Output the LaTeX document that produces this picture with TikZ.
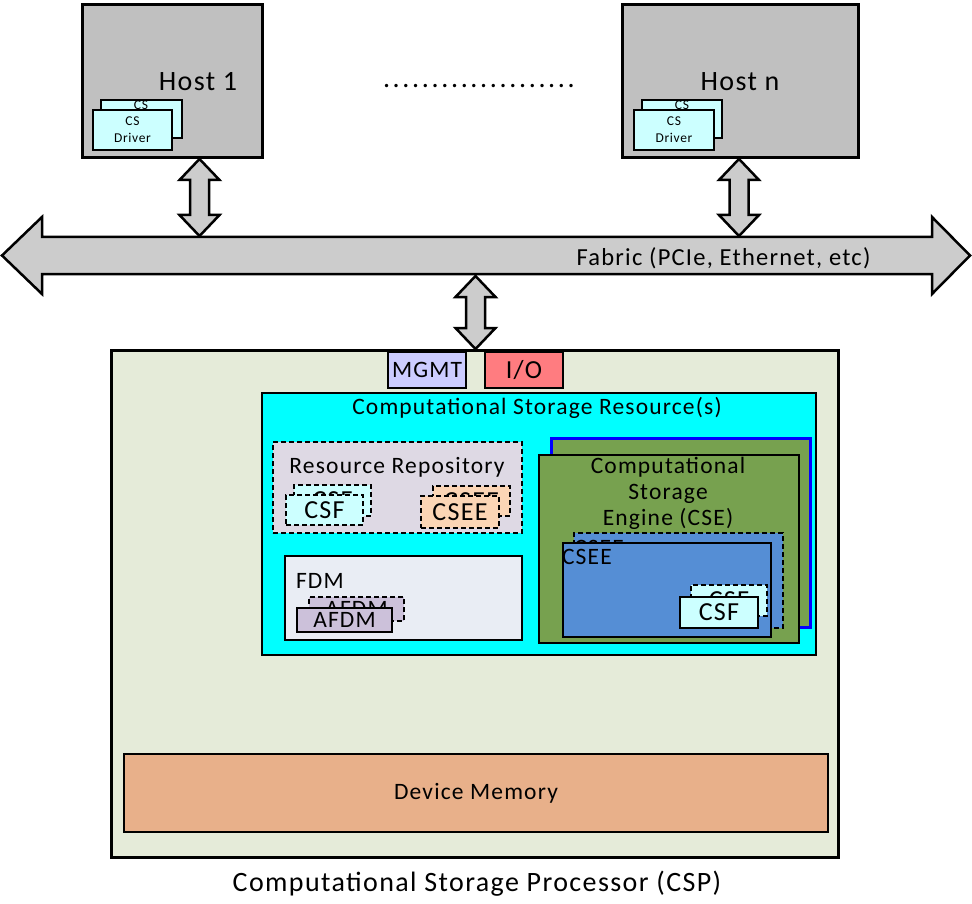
\documentclass[tikz,border=0pt]{standalone}
\usepackage{fontspec}
\setmainfont{Carlito}[LetterSpace=5]
\usetikzlibrary{calc,fit}
\definecolor{hostgray}{HTML}{C0C0C0}
\definecolor{arrgray}{HTML}{CCCCCC}
\definecolor{drvcyan}{HTML}{CCFFFF}
\definecolor{cspfill}{HTML}{E5EBD9}
\definecolor{mgmtfill}{HTML}{CCCCFF}
\definecolor{iofill}{HTML}{FF7C80}
\definecolor{csrfill}{HTML}{00FFFF}
\definecolor{rrfill}{HTML}{DED9E4}
\definecolor{cseefill}{HTML}{FBD5B5}
\definecolor{fdmfill}{HTML}{E9EDF4}
\definecolor{afdmfill}{HTML}{CCC1DA}
\definecolor{csegreen}{HTML}{77A14F}
\definecolor{cseeblue}{HTML}{558ED5}
\definecolor{memfill}{HTML}{E8B08A}
\newcommand\fmain{\fontsize{23.5}{26}\selectfont}
\newcommand\fbig{\fontsize{28}{32}\selectfont}
\newcommand\fcard{\fontsize{26}{30}\selectfont}
\newcommand\fsmall{\fontsize{13.5}{17}\selectfont}
\newcommand\rbox[4][]{\node[fit={(#3) (#4)}, inner sep=0pt, outer sep=0pt, draw=black, line width=2.5pt, #1] (#2) {};}
\newcommand\vdbl[2]{\draw[blockarrow] (#1) -- ($(#1)+(20,21)$) -- ($(#1)+(9.5,21)$) -- ($(#2)+(9.5,-21)$) -- ($(#2)+(20,-21)$) -- (#2) -- ($(#2)+(-20,-21)$) -- ($(#2)+(-9.5,-21)$) -- ($(#1)+(-9.5,21)$) -- ($(#1)+(-20,21)$) -- cycle;}
\tikzset{
  blockarrow/.style={draw=black, line width=2.5pt, fill=arrgray, line join=miter},
  dsh/.style={dash pattern=on 5pt off 3pt},
  txt/.style={inner sep=0pt, outer sep=0pt, font=\fmain},
}
\begin{document}
\begin{tikzpicture}[x=1pt,y=-1pt]
\useasboundingbox (0,0) rectangle (972,904);
% hosts
\rbox[fill=hostgray, line width=3pt]{h1}{82,5}{262,158}
\rbox[fill=hostgray, line width=3pt]{hn}{622,5}{858,158}
\node[txt, font=\fbig] (h1t) at (198,82) {Host 1};
\node[txt, font=\fbig] (hnt) at (740,82) {Host n};
% drivers host 1
\rbox[fill=drvcyan]{d1b}{101,100}{182,138}
\node[txt, font=\fsmall, anchor=north] (d1bt) at (141,101) {CS};
\rbox[fill=drvcyan]{d1f}{93,110}{172,150}
\node[txt, font=\fsmall, align=center] (d1ft) at (d1f.center) {CS\\Driver};
% drivers host n
\rbox[fill=drvcyan]{dnb}{642,100}{722,138}
\node[txt, font=\fsmall, anchor=north] (dnbt) at (682,101) {CS};
\rbox[fill=drvcyan]{dnf}{634,110}{714,150}
\node[txt, font=\fsmall, align=center] (dnft) at (dnf.center) {CS\\Driver};
% dots
\node[txt, font=\fbig] (dots) at (479,86) {\makebox[192pt]{.\hfill.\hfill.\hfill.\hfill.\hfill.\hfill.\hfill.\hfill.\hfill.\hfill.\hfill.\hfill.\hfill.\hfill.\hfill.\hfill.\hfill.\hfill.\hfill.}};
% fabric
\coordinate (fl) at (2,255.5);
\coordinate (fr) at (970,255.5);
\draw[blockarrow] (fl) -- ($(fl)+(40,-38.5)$) -- ($(fl)+(40,-18.5)$) -- ($(fr)+(-38,-18.5)$) -- ($(fr)+(-38,-38.5)$) -- (fr)
  -- ($(fr)+(-38,38.5)$) -- ($(fr)+(-38,18.5)$) -- ($(fl)+(40,18.5)$) -- ($(fl)+(40,38.5)$) -- cycle;
\node[txt, font=\fontsize{24.5}{28}\selectfont] (fab) at (723.5,258) {Fabric (PCIe, Ethernet, etc)};
% vertical arrows
\coordinate (a1t) at (199.5,159);
\coordinate (a1b) at (199.5,236);
\vdbl{a1t}{a1b}
\coordinate (a2t) at (739,159);
\coordinate (a2b) at (739,236);
\vdbl{a2t}{a2b}
\coordinate (a3t) at (475.5,276);
\coordinate (a3b) at (475.5,349);
\vdbl{a3t}{a3b}
% CSP
\rbox[fill=cspfill, line width=3pt]{csp}{111,350}{838,857}
\rbox[fill=mgmtfill]{mgmt}{388,352}{466,388}
\node[txt] at (mgmt.center) {MGMT};
\rbox[fill=iofill]{io}{485,352}{563,388}
\node[txt, font=\fcard] at (io.center) {I/O};
% CSR
\rbox[fill=csrfill]{csr}{262,393}{816,655}
\node[txt] (csrt) at (537,408) {Computational Storage Resource(s)};
% resource repository
\rbox[fill=rrfill, dsh]{rr}{273,442}{522,533}
\node[txt] (rrt) at (397,467) {Resource Repository};
\rbox[fill=drvcyan, dsh]{csfb}{294,485}{371,516}
\node[txt, font=\fcard] at (csfb.center) {CSF};
\rbox[fill=drvcyan, dsh]{csff}{286,495}{363,525}
\node[txt, font=\fcard] at (csff.center) {CSF};
\rbox[fill=cseefill, dsh]{cseeb}{433,486}{510,516}
\node[txt, font=\fcard] at (cseeb.center) {CSEE};
\rbox[fill=cseefill, dsh]{cseef}{421,496}{499,528}
\node[txt, font=\fcard] at (cseef.center) {CSEE};
% FDM
\rbox[fill=fdmfill]{fdm}{285,556}{522,640}
\node[txt, anchor=west] (fdmt) at (296,581) {FDM};
\rbox[fill=afdmfill, dsh]{afdmb}{309,597}{404,621}
\node[txt] at (afdmb.center) {AFDM};
\rbox[fill=afdmfill]{afdmf}{297,608}{392,632}
\node[txt] at (afdmf.center) {AFDM};
% CSE
\rbox[fill=csegreen, draw=blue, line width=3pt]{cseb}{551,438}{810,627}
\rbox[fill=csegreen]{csef}{539,455}{799,643}
\node[txt, align=center] (cset) at (668,493) {Computational\\Storage\\Engine (CSE)};
\rbox[fill=cseeblue, dsh]{bseeb}{574,533}{783,628}
\node[txt, anchor=west] at (574,548) {CSEE};
\rbox[fill=cseeblue]{bseef}{563,543}{771,637}
\node[txt, anchor=west] at (562,557) {CSEE};
\rbox[fill=drvcyan, dsh]{ecsfb}{691,585}{767,616}
\node[txt, font=\fcard] at (ecsfb.center) {CSF};
\rbox[fill=drvcyan]{ecsff}{680,597}{758,628}
\node[txt, font=\fcard] at (ecsff.center) {CSF};
% device memory
\rbox[fill=memfill]{mem}{124,754}{828,832}
\node[txt] at (mem.center) {Device Memory};
% caption
\node[txt, font=\fbig] (cap) at (477,884) {Computational Storage Processor (CSP)};
\end{tikzpicture}
\end{document}
